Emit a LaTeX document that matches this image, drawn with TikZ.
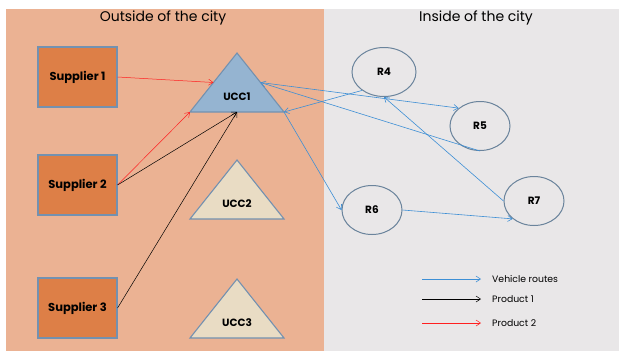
\documentclass[tikz,border=0pt]{standalone}
\usepackage{fontspec}
\setmainfont{Poppins}
\usetikzlibrary{calc}
\usetikzlibrary{shapes.geometric}
\usetikzlibrary{arrows.meta}

\definecolor{outbg}{HTML}{EBB293}
\definecolor{inbg}{HTML}{E9E7E8}
\definecolor{supc}{HTML}{DD7F47}
\definecolor{edgec}{HTML}{7391B0}
\definecolor{ellc}{HTML}{6B849C}
\definecolor{ucca}{HTML}{95B4D1}
\definecolor{uccb}{HTML}{E9DCC4}
\definecolor{routec}{HTML}{3D8FD5}
\definecolor{redc}{HTML}{FF2020}

\begin{document}
\begin{tikzpicture}[x=1pt, y=-1pt,
        >={Straight Barb[length=4.5pt,width=6pt]},
        S/.style={draw=edgec, line width=1.1pt, fill=supc, minimum width=79pt,
            minimum height=60pt, font=\bfseries\fontsize{11.5}{13}\selectfont},
        T/.style={draw=edgec, line width=1.1pt},
        L/.style={font=\bfseries\fontsize{10.5}{12}\selectfont, inner sep=1pt},
        R/.style={ellipse, draw=ellc, line width=1pt, minimum width=60pt,
            minimum height=49pt, inner sep=0pt, font=\bfseries\fontsize{10.5}{12}\selectfont},
        V/.style={draw=routec, ->, line width=0.6pt},
        P1/.style={draw=black, ->, line width=0.5pt},
        P2/.style={draw=redc, ->, line width=0.5pt},
        title/.style={font=\fontsize{14}{16}\selectfont},
        key/.style={anchor=west, inner sep=0pt, font=\fontsize{9.3}{11}\selectfont}
    ]
    \useasboundingbox (0,0) rectangle (622,354);

    \fill[outbg] (6,9) rectangle (324,351);
    \fill[inbg] (324,9) rectangle (619,351);
    \node[title] (out) at (163,18) {Outside of the city};
    \node[title] (in) at (476,18) {Inside of the city};

    \foreach \i/\y in {1/77, 2/185, 3/308}
        \node[S] (s\i) at (77.5,\y) {Supplier \i};

    \foreach \i/\y/\c in {1/112/ucca, 2/219/uccb, 3/338/uccb}{
        \draw[T, fill=\c] (190,\y) coordinate (u\i-l) -- (237,{\y-59}) coordinate (u\i-t)
            -- (284,\y) coordinate (u\i-r) -- cycle;
        \coordinate (u\i-b) at (237,\y);
        \node[L] (u\i) at (237,{\y-15}) {UCC\i};
    }
    \coordinate (u1w) at ($(u1-l)!0.5!(u1-t)$);
    \coordinate (u1e) at ($(u1-r)!0.5!(u1-t)$);

    \node[R, minimum width=64pt] (r4) at (384,72) {R4};
    \node[R] (r5) at (480,126) {R5};
    \node[R] (r6) at (372,210) {R6};
    \node[R] (r7) at (534,201) {R7};

    % products
    \draw[P2] (s1.east) -- (u1w);
    \draw[P2] (s2.east) -- (u1-l);
    \draw[P1] (s2.east) -- (u1-b);
    \draw[P1] (s3.east) -- (u1-b);

    % routes
    \draw[V] (u1e) -- (r5.140);
    \draw[V] (r5.south) -- (u1e);
    \draw[V] (r4.220) -- (u1-r);
    \draw[V] (u1-r) -- (r6.west);
    \draw[V] (r6.east) -- (r7.220);
    \draw[V] (r7.west) -- (r4.south);

    \node[key] (k1) at (492,279) {Vehicle routes};
    \node[key] (k2) at (492,299) {Product 1};
    \node[key] (k3) at (492,323) {Product 2};
    \coordinate (a1) at (422,279);
    \coordinate (a2) at (422,299);
    \coordinate (a3) at (422,323);
    \draw[V, shorten >=11pt] (a1) -- (k1.west);
    \draw[P1, shorten >=11pt] (a2) -- (k2.west);
    \draw[P2, shorten >=11pt] (a3) -- (k3.west);
\end{tikzpicture}
\end{document}
